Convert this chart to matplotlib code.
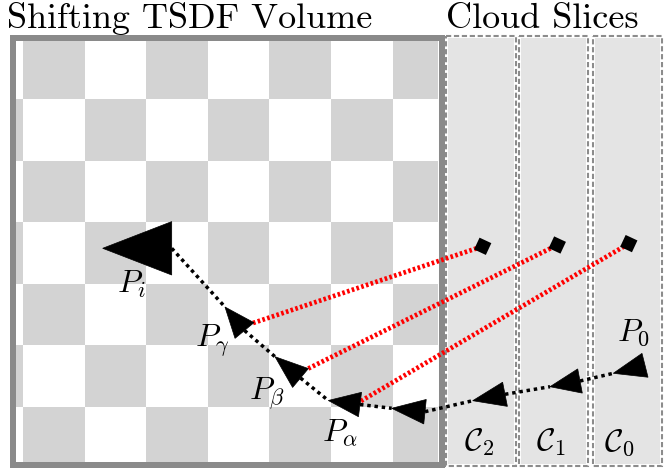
import numpy as np
import matplotlib
matplotlib.use("Agg")
import matplotlib.pyplot as plt
from matplotlib.patches import Rectangle, Polygon

plt.rcParams['mathtext.fontset'] = 'cm'

# ---------------- data (pixel space of the diagram) ----------------
# poses, ordered from P_i (left) to P_0 (right): arrow tip and base centre
pose_labels = [r'$P_i$', r'$P_\gamma$', r'$P_\beta$', r'$P_\alpha$', '', '', '', r'$P_0$']
tip_x = [102.7, 225.0, 275.0, 328.3, 391.7, 472.7, 550.0, 613.3]
tip_y = [248.3, 307.0, 356.7, 400.5, 408.3, 400.7, 386.7, 373.3]
base_x = [171.7, 244.5, 300.5, 360.0, 425.0, 505.0, 580.0, 645.0]
base_y = [248.3, 330.5, 378.0, 404.5, 411.7, 394.3, 381.0, 365.3]

# cloud-slice anchor points (squares) and the poses they link to
slice_labels = [r'$\mathcal{C}_2$', r'$\mathcal{C}_1$', r'$\mathcal{C}_0$']
square_x = [482.7, 557.3, 628.8]
square_y = [246.3, 245.0, 243.6]
link_x = [253.0, 308.3, 361.0]
link_y = [323.0, 368.5, 401.0]

titles = ['Shifting TSDF Volume', 'Cloud Slices']

# ---------------- layout / style ----------------
W, H = 670, 470
vol_box = (13, 38, 428.5, 427)            # centre line of thick border
vol_inner = (16, 41, 422, 421)
cell = 61.6
cell_origin = (23.0, 37.4)
slice_boxes = [(446, 36, 70, 430), (519, 36, 69, 430), (593, 36, 69, 430)]
pose_hw = [26.7, 12.3, 12.3, 12.3, 12.3, 12.3, 12.3, 12.3]
pose_label_pos = [(117, 293), (195, 347), (249, 400), (322, 442), None, None, None, (617, 341)]
slice_label_pos = [(464, 451), (536, 451), (604, 451)]
title_pos = [(7, 28), (446, 28)]
square_side = 13
square_rot = 25

fig = plt.figure(figsize=(W / 100, H / 100), dpi=100)
ax = fig.add_axes([0, 0, 1, 1])
ax.set_xlim(0, W)
ax.set_ylim(H, 0)
ax.axis('off')

# checkerboard clipped to inner volume
clip = Rectangle(vol_inner[:2], vol_inner[2], vol_inner[3], transform=ax.transData,
                 facecolor='none', edgecolor='none')
ax.add_patch(clip)
for r in range(-1, 8):
    for c in range(-1, 8):
        if (r + c) % 2 == 0:
            p = Rectangle((cell_origin[0] + c * cell, cell_origin[1] + r * cell), cell, cell,
                          facecolor='#d3d3d3', edgecolor='none', zorder=1)
            ax.add_patch(p)
            p.set_clip_path(clip)

ax.add_patch(Rectangle(vol_box[:2], vol_box[2], vol_box[3], facecolor='none',
                       edgecolor='#8a8a8a', lw=4.32, zorder=2, joinstyle='miter'))

# cloud slices
for (x, y, w, h) in slice_boxes:
    ax.add_patch(Rectangle((x + 2, y + 2), w - 4, h - 4, facecolor='#e4e4e4',
                           edgecolor='none', zorder=1))
    ax.add_patch(Rectangle((x, y), w, h, facecolor='none', edgecolor='#8c8c8c',
                           lw=1.5, linestyle=(0, (2.5, 1.3)), zorder=2))

# red association lines
for i in range(len(square_x)):
    ax.plot([link_x[i], square_x[i]], [link_y[i], square_y[i]], color='#ff0000', lw=3.4,
            linestyle=(0, (0.55, 0.5)), solid_capstyle='butt', dash_capstyle='butt', zorder=3)

# black dotted trajectory: base of pose k -> tip of pose k+1
for k in range(len(tip_x) - 1):
    ax.plot([base_x[k], tip_x[k + 1]], [base_y[k], tip_y[k + 1]], color='black', lw=2.5,
            linestyle=(0, (1, 1.1)), dash_capstyle='butt', zorder=3)

# pose triangles
for k in range(len(tip_x)):
    t = np.array([tip_x[k], tip_y[k]])
    b = np.array([base_x[k], base_y[k]])
    d = (t - b) / np.linalg.norm(t - b)
    n = np.array([-d[1], d[0]])
    pts = [t, b + n * pose_hw[k], b - n * pose_hw[k]]
    ax.add_patch(Polygon(pts, closed=True, facecolor='black', edgecolor='black', lw=0.5, zorder=4))

# squares
for i in range(len(square_x)):
    a = np.deg2rad(square_rot)
    R = np.array([[np.cos(a), -np.sin(a)], [np.sin(a), np.cos(a)]])
    s = square_side / 2
    corners = np.array([[-s, -s], [s, -s], [s, s], [-s, s]]) @ R.T + [square_x[i], square_y[i]]
    ax.add_patch(Polygon(corners, closed=True, facecolor='black', edgecolor='none', zorder=4))

# labels
for lab, pos in zip(pose_labels, pose_label_pos):
    if pos is not None and lab:
        ax.text(pos[0], pos[1], lab, fontsize=23, ha='left', va='baseline', zorder=5)
for lab, pos in zip(slice_labels, slice_label_pos):
    ax.text(pos[0], pos[1], lab, fontsize=23, ha='left', va='baseline', zorder=5)
for lab, pos in zip(titles, title_pos):
    ax.text(pos[0], pos[1], lab, fontsize=26, ha='left', va='baseline', family='cmr10', zorder=5)

fig.savefig('out.png', dpi=100)
